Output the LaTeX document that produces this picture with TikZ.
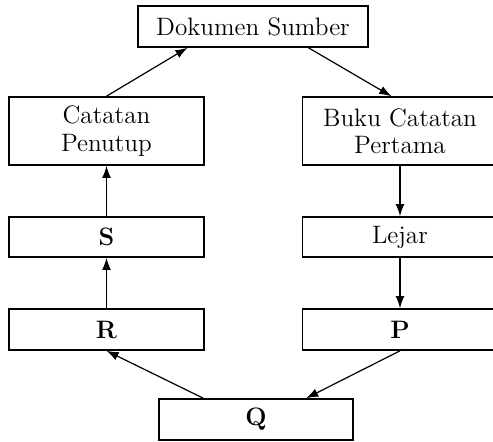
\documentclass[tikz,border=0pt]{standalone}
\usetikzlibrary{arrows.meta}

\tikzset{
    akun/.style={draw, line width=0.8pt, align=center, inner sep=0pt,
        font=\fontsize{12.6}{13.7}\selectfont},
    kolom/.style={akun, minimum width=97.5pt},
    alur/.style={line width=0.6pt, -{Latex[length=6pt,width=4.4pt]}}
}

\begin{document}
\begin{tikzpicture}[x=0.5pt, y=-0.5pt]
        \useasboundingbox (0,0) rectangle (493,441);
        \node[akun, minimum width=115pt, minimum height=20.5pt] (dok)   at (253,26.5)  {Dokumen Sumber};
        \node[kolom, minimum height=34pt]   (tutup) at (106.5,131)   {Catatan\\Penutup};
        \node[kolom, minimum height=34pt]   (buku)  at (400,131)     {Buku Catatan\\Pertama};
        \node[kolom, minimum height=20pt]   (s)     at (106.5,237)   {\textbf{S}};
        \node[kolom, minimum height=20pt]   (lejar) at (400,237)     {Lejar};
        \node[kolom, minimum height=20.5pt] (r)     at (106.5,329.5) {\textbf{R}};
        \node[kolom, minimum height=20.5pt] (p)     at (400,329.5)   {\textbf{P}};
        \node[akun, minimum width=97pt, minimum height=20.5pt] (q) at (256,419.5) {\textbf{Q}};

        \draw[alur] (tutup.north) -- (dok.198);
        \draw[alur] (dok.-21.5)   -- (buku.104);
        \draw[alur] (buku)        -- (lejar);
        \draw[alur] (lejar)       -- (p);
        \draw[alur] (p.south)     -- (q.23.6);
        \draw[alur] (q.158.5)     -- (r.south);
        \draw[alur] (r)           -- (s);
        \draw[alur] (s)           -- (tutup);
    \end{tikzpicture}
\end{document}
